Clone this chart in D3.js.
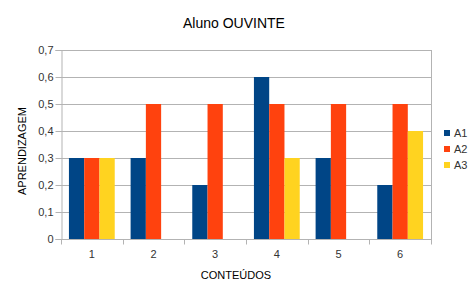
<!DOCTYPE html>
<html>
<head>
<meta charset="utf-8">
<script src="https://cdn.jsdelivr.net/npm/d3@7"></script>
<style>
  body { margin: 0; background: #fff; }
  text { font-family: "Liberation Sans", Arial, sans-serif; }
</style>
</head>
<body>
<div id="chart"></div>
<script>
// Data
var categories = ["1", "2", "3", "4", "5", "6"];
var seriesNames = ["A1", "A2", "A3"];
var a1 = [0.3, 0.3, 0.2, 0.6, 0.3, 0.2];
var a2 = [0.3, 0.5, 0.5, 0.5, 0.5, 0.5];
var a3 = [0.3, 0, 0, 0.3, 0, 0.4];
var yTicks = [0, 0.1, 0.2, 0.3, 0.4, 0.5, 0.6, 0.7];
var colors = ["#004586", "#ff420e", "#ffd320"];

var width = 476, height = 298;
var plot = {left: 61, right: 431, top: 50, bottom: 239};

var svg = d3.select("#chart").append("svg")
    .attr("width", width)
    .attr("height", height);

var x = d3.scaleBand()
    .domain(categories)
    .range([plot.left, plot.right])
    .paddingInner(0)
    .paddingOuter(0);

// bars inside each category group
var xSub = d3.scaleBand()
    .domain(seriesNames)
    .range([0, x.bandwidth()])
    .paddingOuter(0.52)
    .paddingInner(0);

var y = d3.scaleLinear()
    .domain([0, 0.7])
    .range([plot.bottom, plot.top]);

// Gridlines
svg.append("g")
    .selectAll("line")
    .data(yTicks)
    .join("line")
        .attr("x1", plot.left)
        .attr("x2", plot.right)
        .attr("y1", d => Math.round(y(d)) + 0.5)
        .attr("y2", d => Math.round(y(d)) + 0.5)
        .attr("stroke", "#b3b3b3");

// Right border
svg.append("line")
    .attr("x1", plot.right + 0.5).attr("x2", plot.right + 0.5)
    .attr("y1", plot.top).attr("y2", plot.bottom)
    .attr("stroke", "#b3b3b3");

// Bars
var table = categories.map((c, i) => ({cat: c, values: [a1[i], a2[i], a3[i]]}));
svg.append("g")
    .selectAll("g")
    .data(table)
    .join("g")
        .attr("transform", d => "translate(" + x(d.cat) + ",0)")
    .selectAll("rect")
    .data(d => d.values.map((v, j) => ({name: seriesNames[j], value: v, color: colors[j]})))
    .join("rect")
        .attr("x", d => xSub(d.name))
        .attr("width", xSub.bandwidth())
        .attr("y", d => y(d.value))
        .attr("height", d => y(0) - y(d.value))
        .attr("fill", d => d.color);

// Y axis
var yAxis = svg.append("g")
    .attr("transform", "translate(" + (plot.left + 0.5) + ",0)")
    .call(d3.axisLeft(y).tickValues(yTicks).tickSize(6).tickPadding(2)
        .tickFormat(d => d3.format(".1f")(d).replace(".", ",").replace(/^0,0$/, "0")));
yAxis.selectAll("path, line").attr("stroke", "#b3b3b3");
yAxis.selectAll("text").attr("fill", "#333").style("font-size", "11px")
    .style("font-family", "Liberation Sans, Arial, sans-serif");

// X axis: ticks at category boundaries
var xAxisG = svg.append("g")
    .attr("transform", "translate(0," + (plot.bottom + 0.5) + ")");
xAxisG.append("line")
    .attr("x1", plot.left).attr("x2", plot.right + 1)
    .attr("stroke", "#b3b3b3");
xAxisG.selectAll(".tick")
    .data(categories.concat(["end"]))
    .join("line")
        .attr("x1", (d, i) => Math.round(plot.left + i * x.bandwidth()) + 0.5)
        .attr("x2", (d, i) => Math.round(plot.left + i * x.bandwidth()) + 0.5)
        .attr("y1", 0).attr("y2", 5)
        .attr("stroke", "#b3b3b3");
xAxisG.selectAll("text")
    .data(categories)
    .join("text")
        .attr("x", d => x(d) + x.bandwidth() / 2)
        .attr("y", 18)
        .attr("text-anchor", "middle")
        .attr("fill", "#333")
        .style("font-size", "11px")
        .text(d => d);

// Title and axis labels
svg.append("text")
    .attr("x", 234).attr("y", 28)
    .attr("text-anchor", "middle")
    .style("font-size", "14px")
    .attr("fill", "#000")
    .text("Aluno OUVINTE");

svg.append("text")
    .attr("x", 236).attr("y", 279)
    .attr("text-anchor", "middle")
    .style("font-size", "11px")
    .attr("fill", "#000")
    .text("CONTEÚDOS");

svg.append("text")
    .attr("transform", "translate(26,151) rotate(-90)")
    .attr("text-anchor", "middle")
    .style("font-size", "11px")
    .attr("fill", "#000")
    .text("APRENDIZAGEM");

// Legend
var legend = svg.append("g")
    .selectAll("g")
    .data(seriesNames)
    .join("g")
        .attr("transform", (d, i) => "translate(444," + (130 + i * 16) + ")");
legend.append("rect")
    .attr("width", 6).attr("height", 6)
    .attr("fill", (d, i) => colors[i]);
legend.append("text")
    .attr("x", 10).attr("y", 7)
    .style("font-size", "11px")
    .attr("fill", "#333")
    .text(d => d);
</script>
</body>
</html>
